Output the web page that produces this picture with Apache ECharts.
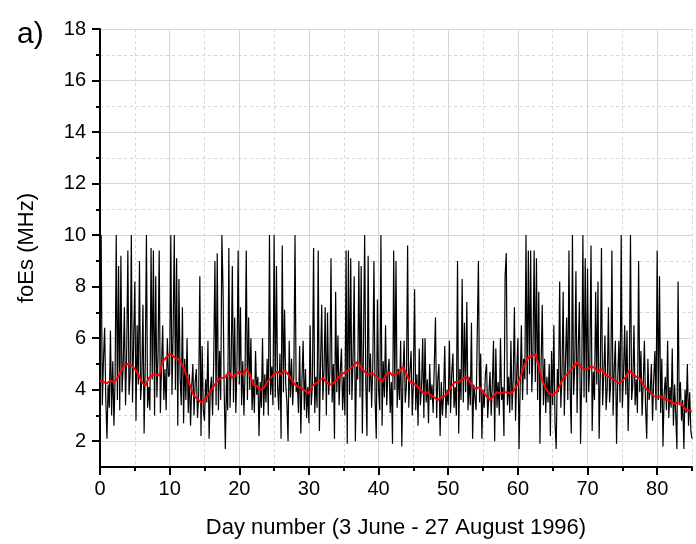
<!DOCTYPE html>
<html>
<head>
<meta charset="utf-8">
<script src="https://cdn.jsdelivr.net/npm/echarts@6/dist/echarts.min.js"></script>
<style>
  html, body { margin: 0; padding: 0; background: #fff; }
  #main { width: 696px; height: 544px; }
</style>
</head>
<body>
<div id="main"></div>
<script>
// foEs, 6 samples per day (every 4 h), one array per 10 days
const foEs00 = [
  4.8, 10, 3.4, 5.2, 6.4, 3.6,   2.1, 4.2, 3.3, 6.3, 3.0, 5.1,
  2.6, 4.4, 10, 3.6, 8.8, 3.2,   9.2, 3.9, 5.0, 7.2, 3.4, 5.5,
  9.4, 3.8, 4.6, 10, 3.5, 6.0,   8.2, 2.8, 6.5, 4.2, 9.0, 3.6,
  4.4, 7.3, 2.3, 5.0, 10, 3.3,   4.1, 3.2, 9.5, 4.4, 9.4, 3.0,
  8.4, 3.7, 5.3, 9.4, 3.1, 4.9,  6.5, 3.6, 4.8, 3.2, 6.0, 4.5
];
const foEs10 = [
  4.6, 10, 3.8, 6.2, 10, 4.0,    9.1, 2.6, 8.3, 4.5, 3.4, 7.2,
  2.7, 5.2, 3.6, 6.0, 3.1, 4.6,  2.6, 4.1, 5.0, 3.0, 4.3, 4.8,
  2.9, 3.8, 8.4, 2.2, 5.7, 3.2,  2.8, 4.4, 3.5, 5.9, 2.1, 4.0,
  4.5, 3.0, 5.2, 9.0, 3.4, 9.3,  3.2, 5.5, 3.6, 10, 7.9, 3.9,
  1.7, 4.5, 3.2, 9.5, 3.3, 5.0,  8.8, 3.5, 6.8, 3.1, 4.9, 9.4
];
const foEs20 = [
  4.2, 7.2, 3.4, 5.1, 3.0, 4.8,  9.4, 3.6, 6.8, 4.0, 6.0, 3.2,
  4.4, 3.1, 5.5, 3.8, 4.5, 2.2,  4.3, 3.3, 6.0, 3.0, 4.6, 3.5,
  5.2, 3.0, 10, 3.8, 4.9, 3.4,   10, 3.7, 8.8, 4.1, 3.2, 5.4,
  2.1, 9.6, 3.9, 7.1, 4.2, 3.5,  2.0, 5.9, 3.7, 5.2, 3.4, 4.6,
  10, 3.9, 4.3, 3.1, 5.7, 2.3,   4.4, 5.9, 3.2, 4.8, 2.9, 4.1
];
const foEs30 = [
  2.7, 6.5, 3.4, 4.2, 9.5, 3.1,  4.5, 3.3, 9.4, 2.4, 5.0, 7.3,
  3.6, 4.8, 7.2, 3.0, 7.0, 3.8,  4.6, 9.1, 3.5, 5.0, 2.1, 7.8,
  3.9, 6.1, 3.4, 4.7, 5.6, 3.2,  4.5, 3.0, 9.4, 1.9, 9.4, 3.8,
  9.1, 3.6, 5.2, 8.4, 2.0, 4.9,  4.4, 9.0, 3.7, 8.8, 2.3, 5.8,
  10, 4.2, 2.2, 9.2, 3.9, 5.4,   3.3, 4.9, 9.0, 3.6, 2.1, 7.5
];
const foEs40 = [
  4.0, 3.2, 10, 2.6, 5.1, 3.7,   6.5, 3.4, 4.6, 5.2, 3.1, 4.3,
  1.9, 9.4, 4.0, 9.0, 3.3, 4.8,  3.6, 5.9, 1.8, 4.5, 5.9, 3.5,
  4.2, 9.6, 3.3, 4.7, 5.5, 3.0,  4.3, 7.9, 3.2, 4.6, 2.6, 5.6,
  3.4, 4.1, 6.0, 2.9, 6.0, 3.5,  4.4, 2.7, 5.0, 3.6, 4.2, 3.1,
  5.0, 6.8, 2.9, 4.4, 5.0, 2.2,  4.3, 3.0, 3.8, 5.7, 2.9, 4.0
];
const foEs50 = [
  3.4, 5.9, 3.1, 4.6, 5.4, 3.3,  4.1, 3.0, 9.0, 2.3, 4.8, 3.6,
  8.3, 3.5, 6.6, 3.9, 7.4, 3.2,  4.5, 3.4, 6.6, 2.1, 4.2, 3.7,
  3.2, 6.1, 9.0, 3.5, 5.4, 2.1,  4.0, 3.3, 4.6, 5.0, 2.9, 3.8,
  4.7, 3.0, 4.2, 5.9, 2.0, 5.6,  3.3, 4.3, 3.0, 6.0, 3.6, 4.1,
  2.2, 8.4, 9.3, 3.4, 4.5, 3.1,  5.9, 3.2, 4.4, 7.2, 2.8, 4.6
];
const foEs60 = [
  6.0, 1.7, 4.2, 6.5, 3.6, 5.2,  4.4, 10, 3.8, 9.4, 4.6, 9.4,
  3.9, 5.5, 9.4, 4.3, 9.1, 3.6,  7.8, 1.9, 5.0, 7.3, 3.4, 5.2,
  3.1, 4.5, 3.5, 5.0, 2.2, 5.5,  3.4, 6.5, 2.7, 1.7, 4.8, 3.9,
  8.2, 3.3, 4.6, 7.8, 3.0, 5.1,  6.8, 3.6, 9.4, 4.0, 2.3, 10,
  3.8, 4.9, 8.6, 3.1, 5.6, 7.4,  1.9, 4.5, 10, 3.7, 9.1, 3.5
];
const foEs70 = [
  8.7, 3.9, 5.0, 9.6, 2.4, 4.7,  3.6, 7.8, 4.2, 8.2, 2.1, 4.5,
  9.5, 3.4, 4.6, 6.1, 3.2, 4.1,  7.2, 3.5, 4.3, 9.4, 3.0, 4.8,
  5.9, 1.9, 4.4, 5.9, 3.5, 10,   3.3, 4.6, 6.5, 3.8, 6.3, 2.4,
  4.5, 10, 3.6, 4.2, 6.5, 3.4,   4.4, 3.1, 9.0, 3.9, 5.5, 3.0,
  4.2, 5.9, 3.3, 2.1, 5.2, 3.6,  3.9, 5.0, 2.8, 4.4, 5.5, 3.2
];
const foEs80 = [
  9.4, 3.6, 8.4, 3.1, 5.2, 1.8,  3.8, 4.5, 3.2, 5.9, 2.9, 4.1,
  3.3, 5.6, 2.6, 4.2, 3.0, 1.7,  8.2, 3.4, 4.3, 2.8, 3.6, 1.7,
  4.0, 3.1, 5.0, 2.6, 3.9, 2.4,  2.1
];

// running mean (red), every half day
const mean00 = [4.35, 4.3, 4.25, 4.35, 4.3, 4.45, 4.7, 4.95, 5.0, 4.95, 4.8, 4.6, 4.3, 4.15, 4.45, 4.55, 4.6, 4.55, 5.1, 5.25];
const mean10 = [5.4, 5.3, 5.2, 5.15, 4.85, 4.5, 4.1, 3.75, 3.65, 3.5, 3.6, 3.8, 4.0, 4.2, 4.4, 4.45, 4.5, 4.7, 4.45, 4.6];
const mean20 = [4.7, 4.6, 4.8, 4.6, 4.2, 4.15, 4.0, 4.05, 4.3, 4.45, 4.6, 4.7, 4.6, 4.75, 4.6, 4.4, 4.2, 4.1, 4.05, 3.95];
const mean30 = [3.85, 4.15, 4.25, 4.35, 4.45, 4.3, 4.2, 4.25, 4.4, 4.55, 4.65, 4.7, 4.85, 4.95, 5.1, 4.85, 4.7, 4.6, 4.65, 4.55];
const mean40 = [4.45, 4.3, 4.55, 4.7, 4.55, 4.6, 4.7, 4.9, 4.6, 4.3, 4.25, 4.15, 4.0, 3.85, 3.9, 3.8, 3.7, 3.6, 3.7, 3.75];
const mean50 = [3.9, 4.15, 4.3, 4.3, 4.4, 4.5, 4.35, 4.1, 4.05, 4.1, 3.9, 3.75, 3.6, 3.75, 3.9, 3.85, 3.9, 3.9, 3.85, 4.0];
const mean60 = [4.25, 4.6, 5.0, 5.25, 5.3, 5.4, 4.9, 4.35, 4.05, 3.85, 3.8, 3.9, 4.15, 4.45, 4.6, 4.7, 4.9, 5.05, 4.9, 4.8];
const mean70 = [4.8, 4.9, 4.85, 4.7, 4.8, 4.6, 4.5, 4.45, 4.35, 4.25, 4.35, 4.5, 4.75, 4.6, 4.5, 4.45, 4.2, 4.0, 3.9, 3.75];
const mean80 = [3.7, 3.75, 3.65, 3.6, 3.55, 3.45, 3.5, 3.45, 3.25, 3.2, 3.15];

const xMajor = [0, 10, 20, 30, 40, 50, 60, 70, 80];
const xMinor = [5, 15, 25, 35, 45, 55, 65, 75, 85];
const yMajor = [2, 4, 6, 8, 10, 12, 14, 16, 18];
const yMinor = [3, 5, 7, 9, 11, 13, 15, 17];

const raw = [].concat(foEs00, foEs10, foEs20, foEs30, foEs40, foEs50, foEs60, foEs70, foEs80);
const rawData = raw.map((v, i) => [i / 6, v]);
const mean = [].concat(mean00, mean10, mean20, mean30, mean40, mean50, mean60, mean70, mean80);
const meanData = mean.map((v, i) => [i * 0.5, v]);

const font = '"Liberation Sans", Arial, sans-serif';
const gridColor = '#d6d6d6';
const tickStyle = { color: '#000', width: 2 };

const chart = echarts.init(document.getElementById('main'), null, { renderer: 'canvas' });
chart.setOption({
  animation: false,
  backgroundColor: '#fff',
  title: {
    text: 'a)', left: 12, top: 15,
    textStyle: { fontSize: 30, fontWeight: 'normal', color: '#000', fontFamily: font }
  },
  grid: { left: 100, right: 4, top: 29, bottom: 77, containLabel: false, outerBoundsMode: 'none' },
  xAxis: [
    {
      type: 'value', min: 0, max: 85, interval: 10, position: 'bottom',
      name: 'Day number (3 June - 27 August 1996)', nameLocation: 'middle', nameGap: 50,
      nameTextStyle: { fontSize: 22, color: '#000', fontFamily: font },
      axisLine: { show: true, onZero: false, lineStyle: { color: '#000', width: 2 } },
      axisTick: { show: true, customValues: xMajor, length: 8, lineStyle: tickStyle },
      axisLabel: { customValues: xMajor, fontSize: 20, color: '#000', margin: 12, fontFamily: font },
      splitLine: { show: true, lineStyle: { color: gridColor, width: 1 } }
    },
    {
      type: 'value', min: 0, max: 85, position: 'bottom',
      axisLine: { show: false, onZero: false },
      axisTick: { show: true, customValues: xMinor, length: 4, lineStyle: tickStyle },
      axisLabel: { show: false },
      splitLine: { show: true, lineStyle: { color: gridColor, width: 1, type: [3, 3] } }
    }
  ],
  yAxis: [
    {
      type: 'value', min: 1, max: 18, interval: 1, position: 'left',
      name: 'foEs (MHz)', nameLocation: 'middle', nameGap: 62,
      nameTextStyle: { fontSize: 22, color: '#000', fontFamily: font },
      axisLine: { show: true, onZero: false, lineStyle: { color: '#000', width: 2 } },
      axisTick: { show: true, customValues: yMajor, length: 8, lineStyle: tickStyle },
      axisLabel: { customValues: yMajor, fontSize: 20, color: '#000', margin: 14, fontFamily: font },
      splitLine: { show: true, lineStyle: { color: gridColor, width: 1 } }
    },
    {
      type: 'value', min: 1, max: 18, interval: 1, position: 'left', offset: 0,
      axisLine: { show: false, onZero: false },
      axisTick: { show: true, customValues: yMinor, length: 4, lineStyle: tickStyle },
      axisLabel: { show: false },
      splitLine: { show: true, lineStyle: { color: gridColor, width: 1, type: [3, 3] } }
    }
  ],
  series: [
    {
      name: 'foEs', type: 'line', data: rawData, showSymbol: false, symbol: 'none',
      lineStyle: { color: '#000', width: 1.2 }, z: 3
    },
    {
      name: 'mean', type: 'line', data: meanData, showSymbol: false, symbol: 'none',
      lineStyle: { color: '#ff0000', width: 2 }, z: 4
    }
  ]
});
</script>
</body>
</html>
